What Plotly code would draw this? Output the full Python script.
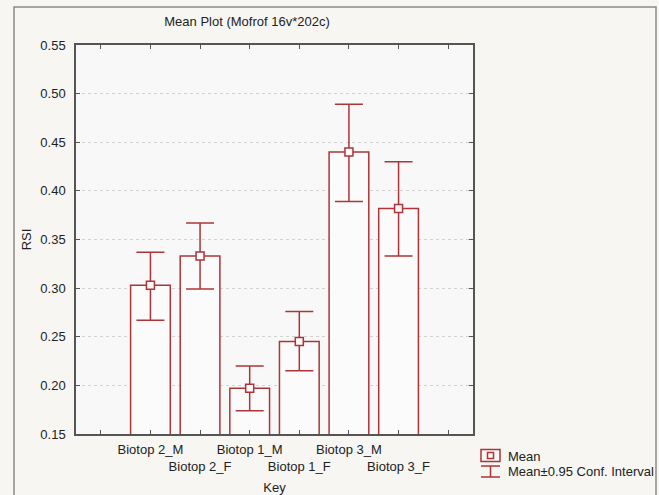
import plotly.graph_objects as go

categories = ["Biotop 2_M", "Biotop 2_F", "Biotop 1_M", "Biotop 1_F", "Biotop 3_M", "Biotop 3_F"]
positions = [1, 2, 3, 4, 5, 6]
means = [0.303, 0.333, 0.197, 0.245, 0.440, 0.382]
ci_upper = [0.337, 0.367, 0.220, 0.276, 0.489, 0.430]
ci_lower = [0.267, 0.299, 0.174, 0.215, 0.389, 0.333]
tick_positions = [0, 1, 2, 3, 4, 5, 6, 7]
tick_labels = ["", "Biotop 2_M", "<br>Biotop 2_F", "Biotop 1_M", "<br>Biotop 1_F",
               "Biotop 3_M", "<br>Biotop 3_F", ""]

RED = "#ad3539"
FONT = "Liberation Sans, Arial, sans-serif"

err_plus = [u - m for u, m in zip(ci_upper, means)]
err_minus = [m - l for m, l in zip(means, ci_lower)]

fig = go.Figure()
fig.add_trace(go.Bar(
    x=positions, y=means, width=0.8,
    marker=dict(color="#fbfbfb", line=dict(color=RED, width=1.5)),
    showlegend=False, hoverinfo="skip",
))
fig.add_trace(go.Scatter(
    x=positions, y=means, mode="markers",
    marker=dict(symbol="square", size=8, color="#fbfbfb", line=dict(color=RED, width=1.5)),
    error_y=dict(type="data", symmetric=False, array=err_plus, arrayminus=err_minus,
                 color=RED, thickness=1.5, width=14),
    showlegend=False,
))

W, H = 659, 495
L, R, T, B = 76, 473, 45, 434
pw, ph = R - L, B - T

def px(xp):
    return (xp - L) / pw

def py(yp):
    return (B - yp) / ph

shapes = []
# outer frame
shapes.append(dict(type="rect", xref="paper", yref="paper",
                   x0=px(14), x1=px(656), y0=py(520), y1=py(7),
                   line=dict(color="#8a8a8a", width=1.5), layer="below"))
# legend symbols
shapes.append(dict(type="rect", xref="paper", yref="paper",
                   x0=px(481), x1=px(500), y0=py(461.5), y1=py(449.5),
                   line=dict(color=RED, width=1.5), fillcolor="rgba(0,0,0,0)"))
shapes.append(dict(type="rect", xref="paper", yref="paper",
                   x0=px(487.5), x1=px(493.5), y0=py(458.5), y1=py(452.5),
                   line=dict(color=RED, width=1.5), fillcolor="#fbfbfb"))
shapes.append(dict(type="line", xref="paper", yref="paper",
                   x0=px(481), x1=px(500), y0=py(466), y1=py(466),
                   line=dict(color=RED, width=1.5)))
shapes.append(dict(type="line", xref="paper", yref="paper",
                   x0=px(490.5), x1=px(490.5), y0=py(466), y1=py(477),
                   line=dict(color=RED, width=1.5)))
shapes.append(dict(type="line", xref="paper", yref="paper",
                   x0=px(481), x1=px(500), y0=py(477), y1=py(477),
                   line=dict(color=RED, width=1.5)))

annotations = [
    dict(text="Mean", xref="paper", yref="paper", x=px(506), y=py(456.5),
         xanchor="left", yanchor="middle", showarrow=False,
         font=dict(family=FONT, size=13, color="#222")),
    dict(text="Mean±0.95 Conf. Interval", xref="paper", yref="paper", x=px(506), y=py(471),
         xanchor="left", yanchor="middle", showarrow=False,
         font=dict(family=FONT, size=13, color="#222")),
]

fig.update_layout(
    width=W, height=H,
    margin=dict(l=L, r=W - R, t=T, b=H - B, pad=0, autoexpand=False),
    paper_bgcolor="#f7f6f2",
    plot_bgcolor="#f8f8f8",
    font=dict(family=FONT, size=13, color="#222"),
    title=dict(text="Mean Plot (Mofrof 16v*202c)", x=247 / W, xanchor="center",
               xref="container", yref="container", y=1 - 21 / H, yanchor="middle",
               font=dict(family=FONT, size=13, color="#222")),
    xaxis=dict(range=[-0.5, 7.5], tickmode="array", tickvals=tick_positions,
               ticktext=tick_labels, ticks="inside", ticklen=4, tickcolor="#555",
               showline=True, linecolor="#555", linewidth=1.5, mirror="ticks",
               showgrid=False, zeroline=False, tickangle=0, automargin=False,
               ticklabelstandoff=3,
               title=dict(text="Key", standoff=15, font=dict(family=FONT, size=13))),
    yaxis=dict(range=[0.15, 0.55], dtick=0.05, tick0=0.15, tickformat=".2f",
               ticks="inside", ticklen=4, tickcolor="#555", automargin=False,
               showline=True, linecolor="#555", linewidth=1.5, mirror="ticks",
               showgrid=True, gridcolor="#d2d2d2", griddash="dot", gridwidth=1,
               zeroline=False, ticklabelstandoff=6,
               title=dict(text="RSI", standoff=6, font=dict(family=FONT, size=13))),
    shapes=shapes,
    annotations=annotations,
    bargap=0.2,
)

fig.write_html("out.html", config={"displayModeBar": False},
               post_script="document.body.style.margin='0';document.body.style.overflow='hidden';")
